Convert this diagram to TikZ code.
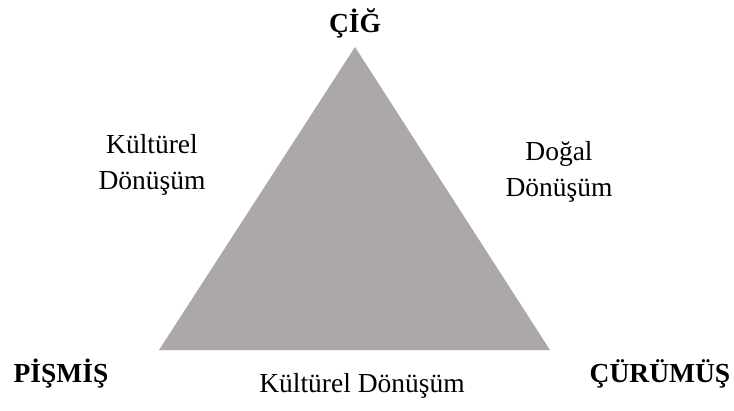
\documentclass[tikz,border=0pt]{standalone}
\usepackage{fontspec}
\setmainfont{Liberation Serif}
\definecolor{trigray}{RGB}{172,168,167}
\begin{document}
\begin{tikzpicture}[x=1pt,y=-1pt,
  corner/.style={font=\fontsize{27.5}{33}\selectfont\bfseries, anchor=base, inner sep=0pt},
  sidelabel/.style={font=\fontsize{27.5}{36}\selectfont, anchor=base, align=center, inner sep=0pt}]
\useasboundingbox (0,0) rectangle (734,410);
\coordinate (apex) at (355,47);
\coordinate (bl) at (159,350);
\coordinate (br) at (550,350);
\fill[trigray] (apex) -- (bl) -- (br) -- cycle;
\node[corner] (cig) at (355,32) {ÇİĞ};
\node[corner] (pismis) at (61,382) {PİŞMİŞ};
\node[corner] (curumus) at (660,382) {ÇÜRÜMÜŞ};
\node[sidelabel] (kulturL) at (152,189) {Kültürel\\Dönüşüm};
\node[sidelabel] (dogal) at (559,196) {Doğal\\Dönüşüm};
\node[sidelabel] (kulturB) at (362,392) {Kültürel Dönüşüm};
\end{tikzpicture}
\end{document}
